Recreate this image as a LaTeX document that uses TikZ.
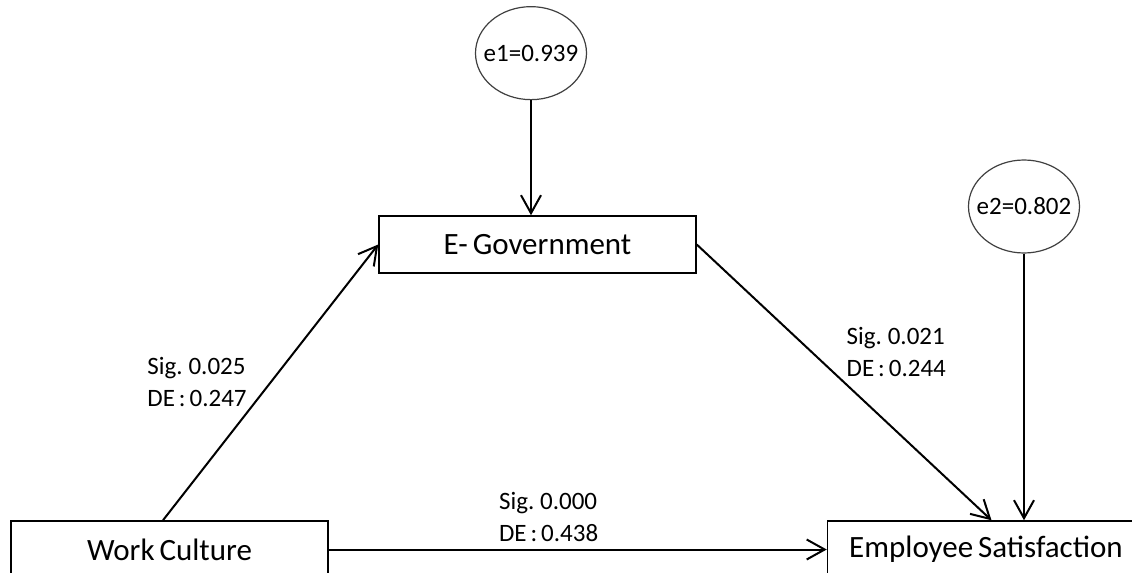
\documentclass[tikz,border=0pt]{standalone}
\usepackage{fontspec}
\setmainfont[WordSpace=0.7]{Carlito}
\usepackage{tikz}
\usetikzlibrary{shapes,arrows}
\usetikzlibrary{positioning,arrows.meta,calc}
\tikzset{
     arrow/.style={-{Straight Barb[length=9pt,width=10pt]}, line width=1pt}
     }
\newcommand{\errtext}[1]{\makebox[0pt]{#1}}

\begin{document}
\begin{tikzpicture}[x=0.5pt,y=-0.5pt]
\tikzstyle{block} = [rectangle, draw, line width=0.75pt, minimum width=158.5pt,
minimum height=28.5pt, inner sep=0pt, font=\fontsize{15.5}{18}\selectfont]
\tikzstyle{error} = [ellipse, draw=black!75, line width=0.6pt, minimum width=55.5pt,
minimum height=46.5pt, inner sep=0pt, font=\fontsize{12.5}{15}\selectfont]
\tikzstyle{coef} = [align=left, inner sep=0pt, font=\fontsize{12.5}{16}\selectfont]

\useasboundingbox (0,0) rectangle (1132,573);

\node [block] (WC) at (169.5,549.5) {Work Culture};
\node [block, right=249pt of WC] (ES) {Employee Satisfaction};
\node [block] (EG) at (537.5,244.5) {E- Government};

\node [error, above=57.5pt of EG, xshift=-3.25pt] (E1) {\errtext{e1=0.939}};
\node [error] (E2) at (1024,206.5) {\errtext{e2=0.802}};

%Lines
\draw[arrow] (E1.south) -- (E1.south |- EG.north);
\draw[arrow] (E2.south) -- (E2.south |- ES.north);

\draw[arrow] ([xshift=-3.25pt]WC.north) -- (EG.west)
  node [coef, pos=0.5, anchor=east, xshift=-11.5pt] (L1) {Sig. 0.025\\DE : 0.247};

\draw[arrow] (EG.east) -- ([xshift=2.75pt]ES.north)
  node [coef, pos=0.39, anchor=west, xshift=17pt] (L2) {Sig. 0.021\\DE : 0.244};

\draw[arrow] (WC.east) -- (ES.west)
  node [coef, pos=0.34, anchor=south west, yshift=3.5pt] (L3) {Sig. 0.000\\DE : 0.438};

\end{tikzpicture}
\end{document}
